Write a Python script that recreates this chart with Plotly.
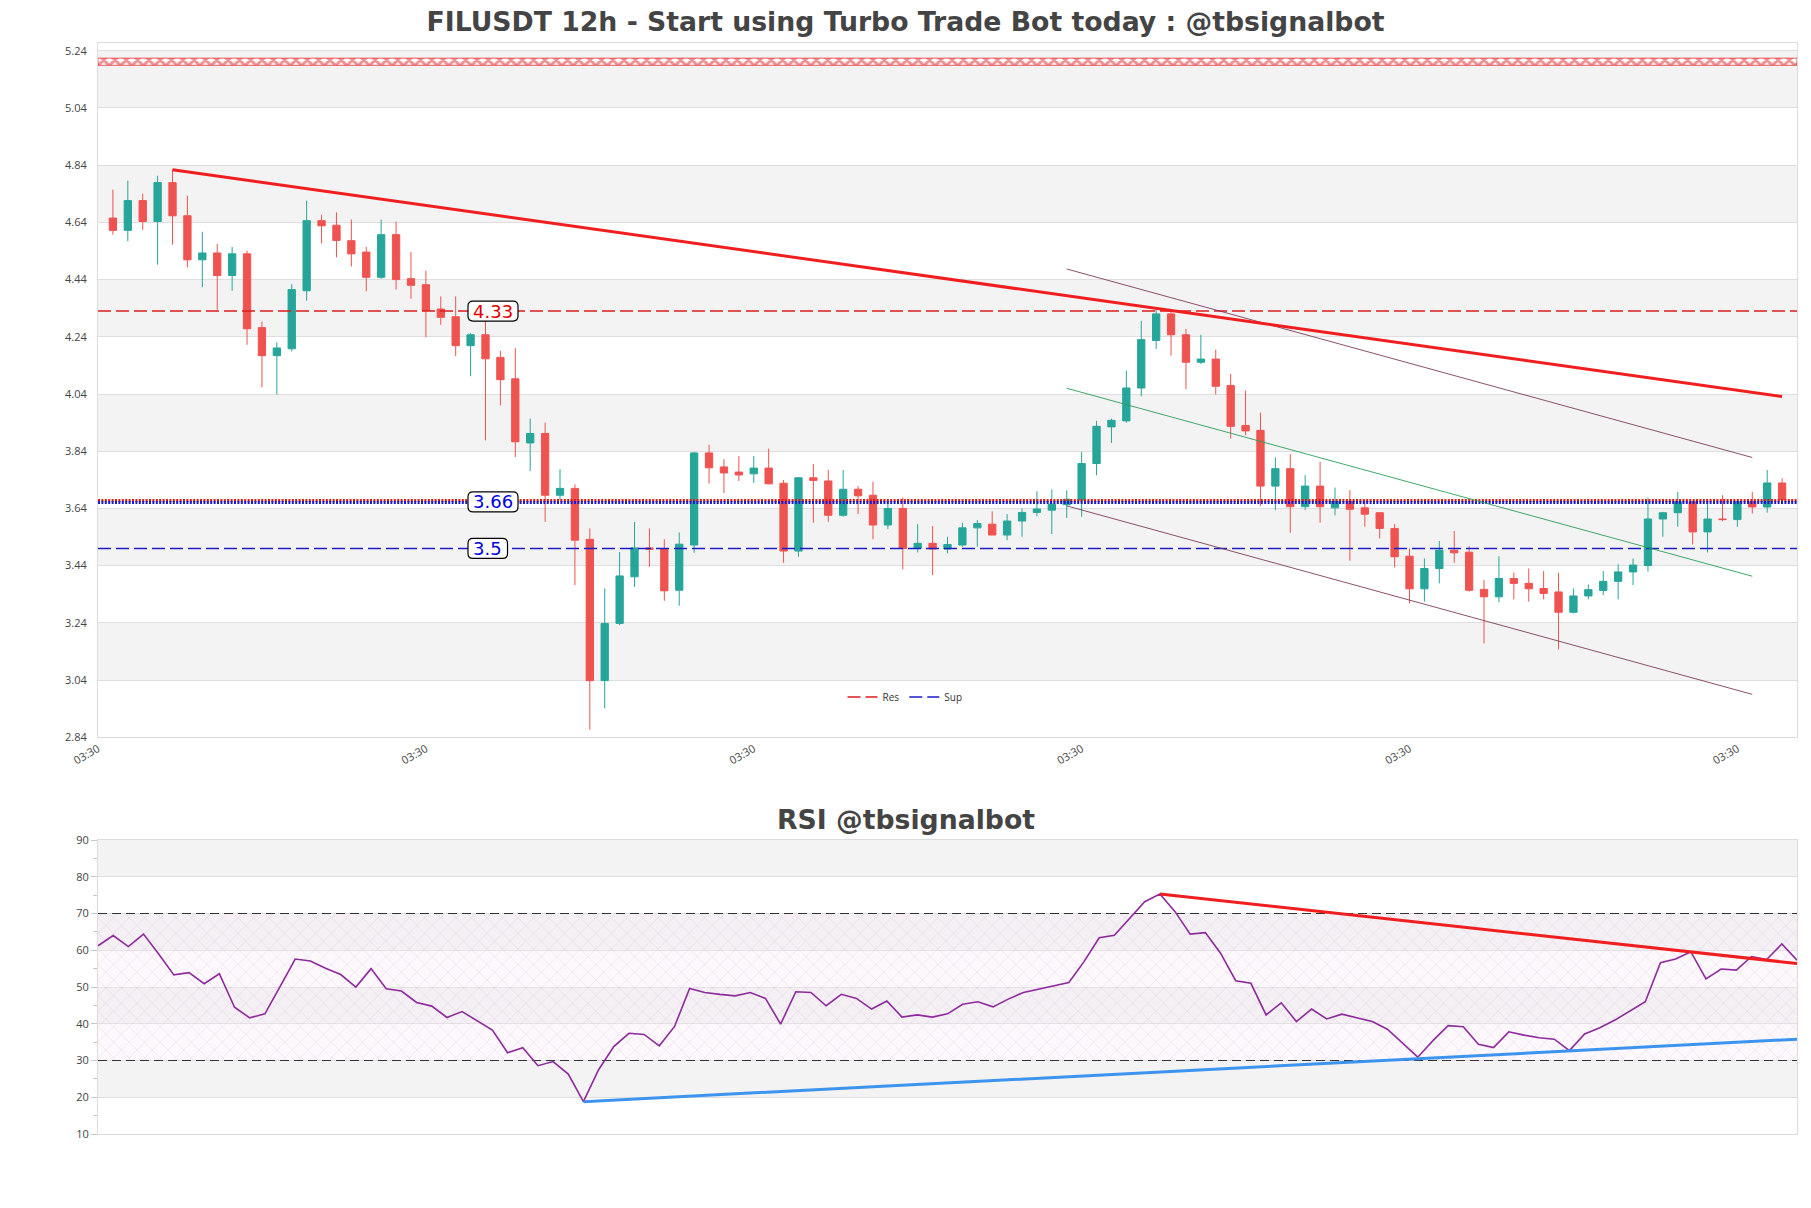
import plotly.graph_objects as go
import pandas as pd

# ---------------- data ----------------
open_prices = [4.655, 4.612, 4.716, 4.643, 4.779, 4.663, 4.509, 4.533, 4.454, 4.530,
               4.272, 4.174, 4.198, 4.401, 4.646, 4.630, 4.576, 4.536, 4.448, 4.597,
               4.443, 4.422, 4.337, 4.310, 4.209, 4.247, 4.168, 4.093, 3.869, 3.902,
               3.686, 3.710, 3.532, 3.038, 3.238, 3.401, 3.502, 3.498, 3.354, 3.512,
               3.834, 3.785, 3.767, 3.761, 3.781, 3.728, 3.491, 3.747, 3.736, 3.616,
               3.707, 3.686, 3.582, 3.640, 3.500, 3.518, 3.498, 3.512, 3.572, 3.585,
               3.547, 3.596, 3.626, 3.634, 3.653, 3.669, 3.797, 3.925, 3.946, 4.061,
               4.227, 4.320, 4.247, 4.151, 4.162, 4.070, 3.930, 3.913, 3.718, 3.779,
               3.646, 3.718, 3.642, 3.665, 3.642, 3.625, 3.570, 3.473, 3.359, 3.430,
               3.494, 3.487, 3.357, 3.331, 3.395, 3.378, 3.360, 3.348, 3.277, 3.334,
               3.353, 3.385, 3.418, 3.440, 3.603, 3.625, 3.663, 3.558, 3.603, 3.601,
               3.663, 3.645, 3.729]
high_prices = [4.754, 4.786, 4.740, 4.803, 4.824, 4.733, 4.607, 4.565, 4.554, 4.541,
               4.293, 4.221, 4.424, 4.716, 4.667, 4.675, 4.650, 4.554, 4.650, 4.643,
               4.536, 4.471, 4.381, 4.381, 4.253, 4.302, 4.191, 4.200, 3.954, 3.940,
               3.777, 3.724, 3.570, 3.360, 3.488, 3.593, 3.570, 3.532, 3.556, 3.838,
               3.863, 3.812, 3.823, 3.823, 3.849, 3.739, 3.750, 3.795, 3.774, 3.774,
               3.718, 3.733, 3.657, 3.678, 3.585, 3.578, 3.541, 3.590, 3.599, 3.630,
               3.620, 3.640, 3.700, 3.706, 3.703, 3.838, 3.946, 3.954, 4.122, 4.296,
               4.341, 4.335, 4.267, 4.247, 4.195, 4.110, 4.052, 3.975, 3.818, 3.830,
               3.756, 3.803, 3.713, 3.704, 3.669, 3.625, 3.585, 3.500, 3.465, 3.526,
               3.561, 3.508, 3.390, 3.473, 3.416, 3.430, 3.421, 3.415, 3.360, 3.374,
               3.421, 3.445, 3.465, 3.678, 3.628, 3.698, 3.663, 3.669, 3.686, 3.669,
               3.698, 3.774, 3.745]
low_prices = [4.597, 4.574, 4.614, 4.492, 4.562, 4.483, 4.413, 4.335, 4.401, 4.212,
              4.063, 4.038, 4.189, 4.366, 4.567, 4.518, 4.486, 4.399, 4.442, 4.405,
              4.373, 4.238, 4.282, 4.172, 4.102, 3.878, 4.000, 3.820, 3.770, 3.593,
              3.669, 3.372, 2.866, 2.941, 3.232, 3.366, 3.436, 3.317, 3.300, 3.485,
              3.727, 3.694, 3.736, 3.729, 3.724, 3.450, 3.471, 3.590, 3.593, 3.611,
              3.620, 3.532, 3.568, 3.427, 3.486, 3.407, 3.483, 3.506, 3.506, 3.547,
              3.529, 3.541, 3.613, 3.550, 3.607, 3.611, 3.756, 3.869, 3.940, 4.032,
              4.197, 4.174, 4.057, 4.145, 4.038, 3.884, 3.896, 3.648, 3.634, 3.555,
              3.634, 3.590, 3.616, 3.457, 3.576, 3.535, 3.434, 3.308, 3.314, 3.378,
              3.450, 3.349, 3.168, 3.312, 3.322, 3.314, 3.322, 3.147, 3.273, 3.322,
              3.337, 3.322, 3.372, 3.419, 3.541, 3.576, 3.514, 3.486, 3.595, 3.576,
              3.622, 3.625, 3.671]
close_prices = [4.612, 4.716, 4.643, 4.779, 4.663, 4.509, 4.533, 4.454, 4.530, 4.268,
                4.174, 4.201, 4.405, 4.646, 4.628, 4.577, 4.530, 4.448, 4.597, 4.440,
                4.420, 4.332, 4.308, 4.209, 4.247, 4.163, 4.090, 3.873, 3.902, 3.686,
                3.710, 3.529, 3.038, 3.238, 3.404, 3.502, 3.497, 3.352, 3.515, 3.834,
                3.782, 3.764, 3.757, 3.781, 3.726, 3.491, 3.747, 3.738, 3.616, 3.707,
                3.684, 3.582, 3.640, 3.500, 3.518, 3.498, 3.514, 3.572, 3.587, 3.547,
                3.596, 3.626, 3.638, 3.655, 3.672, 3.797, 3.927, 3.948, 4.061, 4.230,
                4.320, 4.247, 4.151, 4.162, 4.067, 3.927, 3.911, 3.718, 3.779, 3.646,
                3.718, 3.646, 3.665, 3.637, 3.620, 3.570, 3.471, 3.359, 3.430, 3.494,
                3.485, 3.354, 3.331, 3.395, 3.378, 3.359, 3.343, 3.277, 3.334, 3.356,
                3.385, 3.418, 3.442, 3.603, 3.625, 3.663, 3.558, 3.603, 3.601, 3.663,
                3.645, 3.729, 3.671]
rsi_values = [61.2, 64.0, 61.0, 64.4, 59.0, 53.3, 53.9, 50.9, 53.6, 44.5,
              41.6, 42.7, 50.1, 57.6, 57.1, 55.1, 53.4, 50.0, 55.0, 49.5,
              48.9, 45.8, 44.8, 41.7, 43.3, 40.7, 38.3, 32.1, 33.5, 28.6,
              29.7, 26.3, 18.8, 27.5, 33.8, 37.4, 37.1, 34.0, 39.2, 49.6,
              48.5, 48.0, 47.6, 48.5, 46.9, 39.9, 48.7, 48.5, 44.9, 48.0,
              46.9, 44.0, 46.2, 41.8, 42.4, 41.8, 42.7, 45.3, 46.0, 44.6,
              46.7, 48.5, 49.4, 50.1, 51.2, 56.9, 63.4, 64.1, 68.7, 73.2,
              75.3, 70.5, 64.4, 64.8, 59.2, 51.7, 51.0, 42.4, 45.7, 40.6,
              44.0, 41.3, 42.6, 41.5, 40.6, 38.5, 34.7, 30.9, 35.4, 39.5,
              39.2, 34.4, 33.5, 37.8, 36.9, 36.2, 35.8, 32.7, 37.2, 38.9,
              41.0, 43.5, 46.0, 56.6, 57.6, 59.6, 52.2, 54.9, 54.6, 58.3,
              57.5, 61.7, 57.3]

# levels
res_dashed = 4.33
res_dotted = 3.668
sup_dotted = 3.661
sup_dashed = 3.50
level_labels = [("4.33", 4.33, "#e00000"), ("3.66", 3.663, "#0000e0"), ("3.5", 3.50, "#0000e0")]
top_zone = [5.189, 5.214]

# trend lines (candle index 1-based, value)
main_trend_idx = [5, 113]
main_trend_val = [4.824, 4.031]
channel_idx = [65, 111]
channel_upper = [4.477, 3.818]
channel_mid = [4.060, 3.403]
channel_lower = [3.649, 2.990]
rsi_res_k = [70, 112]
rsi_res_val = [75.3, 56.4]
rsi_sup_k = [32, 112]
rsi_sup_val = [18.8, 35.8]

x_tick_idx = [0, 22, 44, 66, 88, 110]
main_bands = [(5.04, 5.24), (4.64, 4.84), (4.24, 4.44), (3.84, 4.04), (3.44, 3.64), (3.04, 3.24)]
rsi_bands = [(80, 90), (60, 70), (40, 50), (20, 30)]

# ---------------- time axis ----------------
t0 = pd.Timestamp("2023-02-01 03:30")
step = pd.Timedelta(hours=12)
n = len(close_prices)
dates = [t0 + step * (i + 1) for i in range(n)]
x_start = t0
x_end = t0 + step * (n + 1)
tickvals = [t0 + step * i for i in x_tick_idx]


def cdate(i):
    return t0 + step * i


def rdate(k):
    return dates[k]


fig = go.Figure()

# ---------------- main chart ----------------
fig.add_trace(go.Candlestick(
    x=dates, open=open_prices, high=high_prices, low=low_prices, close=close_prices,
    increasing=dict(line=dict(color="#26a69a", width=1), fillcolor="#26a69a"),
    decreasing=dict(line=dict(color="#ef5350", width=1), fillcolor="#ef5350"),
    whiskerwidth=0, showlegend=False, xaxis="x", yaxis="y", name="FILUSDT"))

# top hatched zone
fig.add_trace(go.Scatter(
    x=[x_start, x_end, x_end, x_start, x_start],
    y=[top_zone[0], top_zone[0], top_zone[1], top_zone[1], top_zone[0]],
    mode="lines", fill="toself", line=dict(width=1, color="rgba(230,30,35,0.7)"),
    fillcolor="rgba(0,0,0,0)",
    fillpattern=dict(shape="x", fgcolor="#e41e24", bgcolor="rgba(255,255,255,0.95)",
                     size=8, solidity=0.6),
    showlegend=False, hoverinfo="skip", xaxis="x", yaxis="y"))

# levels
fig.add_trace(go.Scatter(x=[x_start, x_end], y=[res_dashed, res_dashed], mode="lines",
                         line=dict(color="#dd1c1c", width=1.5, dash="13px,5px"),
                         name="Res", legendgroup="res", xaxis="x", yaxis="y"))
fig.add_trace(go.Scatter(x=[x_start, x_end], y=[res_dotted, res_dotted], mode="lines",
                         line=dict(color="#dd1c1c", width=3, dash="2px,1.4px"),
                         name="Res", legendgroup="res", showlegend=False, xaxis="x", yaxis="y"))
fig.add_trace(go.Scatter(x=[x_start, x_end], y=[sup_dashed, sup_dashed], mode="lines",
                         line=dict(color="#1c1cc8", width=1.5, dash="13px,5px"),
                         name="Sup", legendgroup="sup", xaxis="x", yaxis="y"))
fig.add_trace(go.Scatter(x=[x_start, x_end], y=[sup_dotted, sup_dotted], mode="lines",
                         line=dict(color="#1c1cc8", width=3, dash="2px,1.4px"),
                         name="Sup", legendgroup="sup", showlegend=False, xaxis="x", yaxis="y"))

# channel lines
for vals, col in [(channel_upper, "rgba(120,50,80,0.85)"),
                  (channel_mid, "rgba(40,160,90,0.9)"),
                  (channel_lower, "rgba(120,50,80,0.85)")]:
    fig.add_trace(go.Scatter(x=[cdate(i) for i in channel_idx], y=vals, mode="lines",
                             line=dict(color=col, width=1), showlegend=False,
                             hoverinfo="skip", xaxis="x", yaxis="y"))

# main downtrend line
fig.add_trace(go.Scatter(x=[cdate(i) for i in main_trend_idx], y=main_trend_val, mode="lines",
                         line=dict(color="#f01e1e", width=3), showlegend=False,
                         hoverinfo="skip", xaxis="x", yaxis="y"))

# ---------------- RSI chart ----------------
fig.add_trace(go.Scatter(
    x=[dates[0], dates[-1], dates[-1], dates[0], dates[0]],
    y=[30, 30, 70, 70, 30], mode="lines", fill="toself",
    line=dict(width=0, color="rgba(0,0,0,0)"), fillcolor="rgba(0,0,0,0)",
    fillpattern=dict(shape="x", fgcolor="rgba(180,140,195,0.65)", bgcolor="rgba(245,232,245,0.3)",
                     size=11, solidity=0.08),
    showlegend=False, hoverinfo="skip", xaxis="x2", yaxis="y2"))
for lvl in (70, 30):
    fig.add_trace(go.Scatter(x=[dates[0], dates[-1]], y=[lvl, lvl], mode="lines",
                             line=dict(color="#333333", width=1, dash="9px,5px"),
                             showlegend=False, hoverinfo="skip", xaxis="x2", yaxis="y2"))
fig.add_trace(go.Scatter(x=dates, y=rsi_values, mode="lines",
                         line=dict(color="#8e2a9c", width=1.6), showlegend=False,
                         name="RSI", xaxis="x2", yaxis="y2"))
fig.add_trace(go.Scatter(x=[rdate(k) for k in rsi_res_k], y=rsi_res_val, mode="lines",
                         line=dict(color="#f01e1e", width=3), showlegend=False,
                         hoverinfo="skip", xaxis="x2", yaxis="y2"))
fig.add_trace(go.Scatter(x=[rdate(k) for k in rsi_sup_k], y=rsi_sup_val, mode="lines",
                         line=dict(color="#3d94ee", width=3), showlegend=False,
                         hoverinfo="skip", xaxis="x2", yaxis="y2"))

# ---------------- layout helpers ----------------
W, H = 1811, 1208
ml, mr, mt, mb = 98, 14, 43, 74
plot_h = H - mt - mb


def py(pix):
    return (H - mb - pix) / plot_h


def px(pix):
    return (pix - ml) / (W - ml - mr)


def rounded_box(w, h, r):
    x0, x1, y0, y1 = 0, w, -h / 2, h / 2
    return (f"M {x0 + r},{y0} L {x1 - r},{y0} Q {x1},{y0} {x1},{y0 + r} "
            f"L {x1},{y1 - r} Q {x1},{y1} {x1 - r},{y1} L {x0 + r},{y1} "
            f"Q {x0},{y1} {x0},{y1 - r} L {x0},{y0 + r} Q {x0},{y0} {x0 + r},{y0} Z")


# ---------------- bands & label boxes ----------------
shapes = []
for lo, hi in main_bands:
    shapes.append(dict(type="rect", xref="x domain", yref="y", x0=0, x1=1, y0=lo, y1=hi,
                       fillcolor="#f3f3f3", line=dict(width=0), layer="below"))
for lo, hi in rsi_bands:
    shapes.append(dict(type="rect", xref="x2 domain", yref="y2", x0=0, x1=1, y0=lo, y1=hi,
                       fillcolor="#f3f3f3", line=dict(width=0), layer="below"))

label_left = 468
annotations = []
for txt, val, col in level_labels:
    box_w = 8 + 10.5 * len(txt)
    shapes.append(dict(type="path", xref="paper", yref="y",
                       xsizemode="pixel", ysizemode="pixel",
                       xanchor=px(label_left), yanchor=val,
                       path=rounded_box(box_w, 20, 5),
                       fillcolor="white", line=dict(color="black", width=1.2), layer="above"))
    annotations.append(dict(text=txt, x=px(label_left + box_w / 2), xref="paper", xanchor="center",
                            y=val, yref="y", yanchor="middle", showarrow=False,
                            font=dict(family="DejaVu Sans", size=18, color=col)))
annotations.append(dict(text="<b>RSI @tbsignalbot</b>", x=px(905.5), xref="paper", xanchor="center",
                        y=py(819), yref="paper", yanchor="middle", showarrow=False,
                        font=dict(family="DejaVu Sans", size=26.7, color="#444444")))

axis_common = dict(showline=True, linecolor="#dcdcdc", linewidth=1, mirror=True,
                   zeroline=False, tickfont=dict(family="Open Sans", size=11, color="#444444"))

fig.update_layout(
    width=W, height=H, autosize=False,
    margin=dict(l=ml, r=mr, t=mt, b=mb),
    paper_bgcolor="white", plot_bgcolor="white",
    font=dict(family="Open Sans", color="#444444"),
    title=dict(text="<b>FILUSDT 12h - Start using Turbo Trade Bot today : @tbsignalbot</b>",
               x=0.5, xref="container", xanchor="center",
               y=1 - 22 / H, yref="container", yanchor="middle",
               font=dict(family="DejaVu Sans", size=26.7, color="#444444")),
    xaxis=dict(domain=[0, 1], anchor="y", type="date", range=[x_start, x_end],
               tickmode="array", tickvals=tickvals, tickformat="%H:%M", tickangle=-30,
               showgrid=False, rangeslider=dict(visible=False), ticks="", **axis_common),
    yaxis=dict(domain=[py(737.3), 1], anchor="x", range=[2.8399, 5.267],
               tick0=2.84, dtick=0.2, tickformat=".2f", showgrid=True, gridcolor="#dedede",
               ticks="", ticklabelstandoff=8, **axis_common),
    xaxis2=dict(domain=[0, 1], anchor="y2", type="date", range=[dates[0], dates[-1]],
                showticklabels=False, showgrid=False, ticks="", **axis_common),
    yaxis2=dict(domain=[0, py(840)], anchor="x2", range=[10, 90], dtick=10,
                showgrid=True, gridcolor="#dedede", ticks="outside", ticklen=6,
                tickcolor="#c8c8c8", minor=dict(dtick=5, ticks="outside", ticklen=4,
                                                tickcolor="#c8c8c8", showgrid=False),
                **axis_common),
    legend=dict(orientation="h", x=px(905), xanchor="center", y=py(697), yanchor="middle",
                bgcolor="rgba(0,0,0,0)", font=dict(family="Open Sans", size=10, color="#333333"),
                itemwidth=30),
    shapes=shapes,
    annotations=annotations,
    showlegend=True,
)

fig.write_html("out.html", include_plotlyjs=True, config={"displayModeBar": False},
               post_script="document.body.style.margin='0px';document.body.style.overflow='hidden';")
